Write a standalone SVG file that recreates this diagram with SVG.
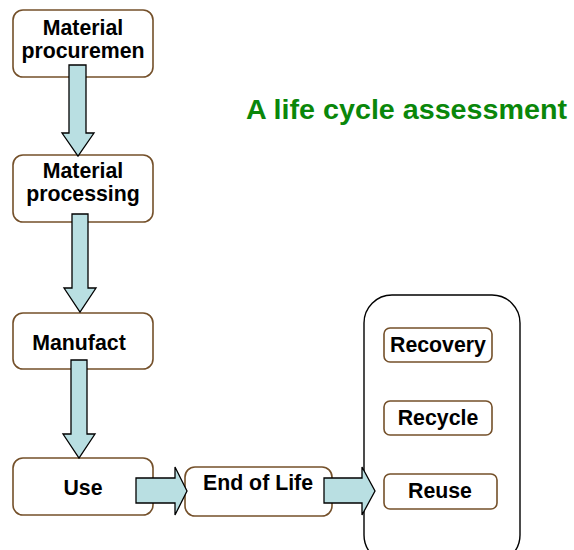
<svg xmlns="http://www.w3.org/2000/svg" width="574" height="550" viewBox="0 0 574 550">
  <style>
    .box { fill: #ffffff; stroke: #74502a; stroke-width: 1.6; }
    .group { fill: #ffffff; stroke: #000000; stroke-width: 1.4; }
    .label { font-family: "Liberation Sans", Arial, sans-serif; font-weight: bold; font-size: 21.3px; fill: #000000; text-anchor: middle; }
    .title { font-family: "Liberation Sans", Arial, sans-serif; font-weight: bold; font-size: 28px; fill: #0a870a; }
    .arrow { fill: #b9dfe2; stroke: #000000; stroke-width: 1.3; stroke-linejoin: miter; }
  </style>
  <rect width="574" height="550" fill="#ffffff"/>

  <text class="title" x="246" y="119" textLength="321" lengthAdjust="spacingAndGlyphs">A life cycle assessment</text>

  <!-- end-of-life options container -->
  <g id="options">
    <rect class="group" x="364" y="295" width="156" height="268" rx="28" ry="28"/>
  </g>

  <g id="procurement">
    <rect class="box" x="13" y="10" width="140" height="67" rx="10" ry="10"/>
    <text class="label" x="83" y="35">Material</text>
    <text class="label" x="83" y="58">procuremen</text>
  </g>

  <g id="processing">
    <rect class="box" x="13" y="155" width="140" height="67" rx="10" ry="10"/>
    <text class="label" x="83" y="178">Material</text>
    <text class="label" x="83" y="201">processing</text>
  </g>

  <g id="manufact">
    <rect class="box" x="13" y="313" width="140" height="56" rx="10" ry="10"/>
    <text class="label" x="79" y="350">Manufact</text>
  </g>

  <g id="use">
    <rect class="box" x="13" y="458" width="140" height="57" rx="10" ry="10"/>
    <text class="label" x="83" y="495">Use</text>
  </g>

  <g id="endoflife">
    <rect class="box" x="185" y="467" width="147" height="49" rx="10" ry="10"/>
    <text class="label" x="258" y="490">End of Life</text>
  </g>

  <g id="recovery">
    <rect class="box" x="384" y="328" width="108" height="34" rx="6" ry="6"/>
    <text class="label" x="438" y="352">Recovery</text>
  </g>

  <g id="recycle">
    <rect class="box" x="384" y="401" width="108" height="34" rx="6" ry="6"/>
    <text class="label" x="438" y="425">Recycle</text>
  </g>

  <g id="reuse">
    <rect class="box" x="384" y="474" width="113" height="35" rx="6" ry="6"/>
    <text class="label" x="440" y="498">Reuse</text>
  </g>

  <!-- block arrows -->
  <g id="connectors">
    <polygon class="arrow" points="69,65 86,65 86,133 94,133 78,156 62,133 69,133"/>
    <polygon class="arrow" points="72,214 88,214 88,288 96,288 80,312 64,288 72,288"/>
    <polygon class="arrow" points="71,360 87,360 87,434 95,434 79,458 63,434 71,434"/>
    <polygon class="arrow" points="136,478 175,478 175,467 187,491 175,515 175,503 136,503"/>
    <polygon class="arrow" points="324,478 362,478 362,467 375,491 362,515 362,503 324,503"/>
  </g>
</svg>
